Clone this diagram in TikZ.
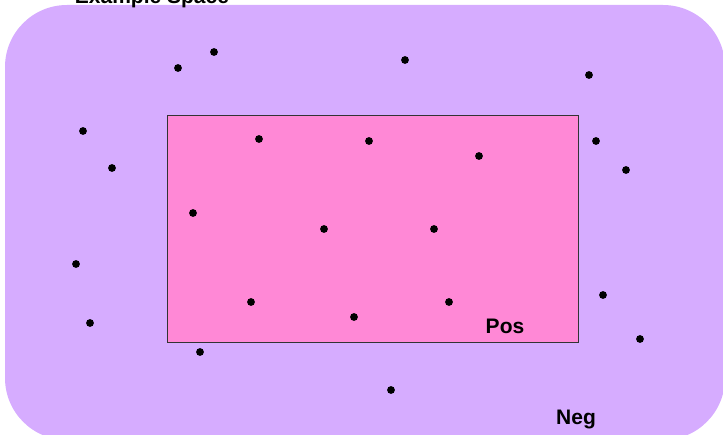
\documentclass[tikz,border=0pt]{standalone}
\usepackage{fontspec}
\setmainfont{Liberation Sans}
\usepackage{tikz}
\usetikzlibrary{positioning}
\usepackage{xcolor}
\definecolor{negfill}{RGB}{214,172,255}
\definecolor{posfill}{RGB}{255,136,214}

\begin{document}
\begin{tikzpicture}[x=1pt, y=-1pt]
    \useasboundingbox (0,0) rectangle (723,435);

    % Example space (negative region)
    \fill[negfill, rounded corners=62pt] (5,5) rectangle (725,440);
    \node[font=\bfseries\fontsize{21}{25}\selectfont, anchor=base] (space) at (152,4) {Example Space};

    % Positive region
    \draw[fill=posfill, draw=black!80, line width=0.8pt] (167,115) rectangle (578,342);

    % Labels
    \node[font=\bfseries\fontsize{21}{25}\selectfont] (pos) at (505,326) {Pos};
    \node[font=\bfseries\fontsize{21}{25}\selectfont] (neg) at (576,420) {Neg};

    % Examples
    \foreach \coord in {(178,68), (214,52), (405,60), (589,75), (83,131), (112,168),
        (259,139), (369,141), (479,156), (596,141), (626,170), (193,213), (324,229),
        (434,229), (76,264), (251,302), (449,302), (603,295), (90,323), (354,317),
        (640,339), (200,352), (391,390)} {
        \fill[black] \coord circle (3.9pt);
    }
\end{tikzpicture}
\end{document}
